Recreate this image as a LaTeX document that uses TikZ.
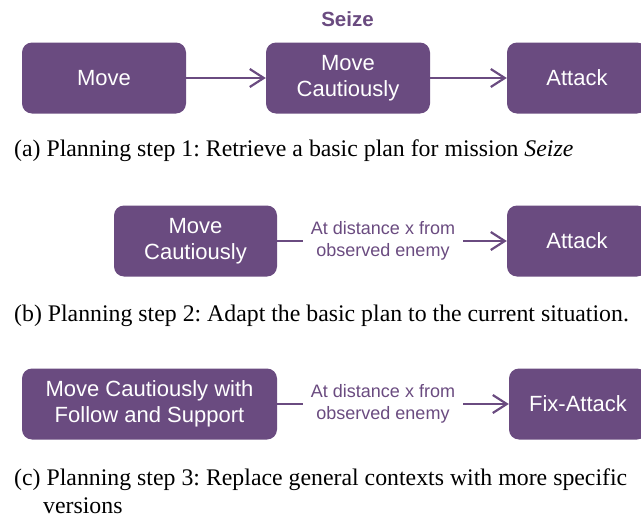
\documentclass[tikz,border=0pt]{standalone}
\usepackage{fontspec}
\setmainfont{Liberation Serif}
\newfontfamily\boxfont{Liberation Sans}
\usetikzlibrary{arrows.meta}
\definecolor{plum}{RGB}{106,75,128}
\frenchspacing
\tikzset{
  stepbox/.style={fill=plum, draw=none, rounded corners=10pt, text=white,
    minimum height=71pt, inner sep=0pt, align=center,
    font=\boxfont\fontsize{22}{26}\selectfont},
  cond/.style={text=plum, inner xsep=8pt, inner ysep=0pt, align=center,
    font=\boxfont\fontsize{18}{22}\selectfont},
  link/.style={draw=plum, line width=2.2pt},
  flow/.style={link, -{Straight Barb[length=14pt,width=18pt,line width=2.2pt]}},
  caption/.style={anchor=base west, inner sep=0pt, font=\fontsize{23.8}{28.5}\selectfont}
}
\begin{document}
\begin{tikzpicture}[x=1pt, y=-1pt]
  \useasboundingbox (0,0) rectangle (641,522);
  \clip (0,0) rectangle (641,522);

  % step 1: basic plan for Seize
  \node[text=plum, font=\boxfont\bfseries\fontsize{20.5}{24}\selectfont] (seize) at (347.5,19) {Seize};
  \node[stepbox, minimum width=164pt] (move) at (104,78) {Move};
  \node[stepbox, minimum width=164pt] (mc1) at (348,78) {Move\\Cautiously};
  \node[stepbox, minimum width=140pt] (att1) at (577,78) {Attack};
  \draw[flow] (move) -- (mc1);
  \draw[flow] (mc1) -- (att1);
  \node[caption] (capa) at (14,156) {(a) Planning step 1: Retrieve a basic plan for mission \textit{Seize}};

  % step 2: adapted to the situation
  \node[stepbox, minimum width=163pt] (mc2) at (195.5,241) {Move\\Cautiously};
  \node[cond] (cond2) at (383,241) {At distance x from\\observed enemy};
  \node[stepbox, minimum width=140pt] (att2) at (577,241) {Attack};
  \draw[link] (mc2) -- (cond2);
  \draw[flow] (cond2) -- (att2);
  \node[caption] (capb) at (14,321) {(b) Planning step 2: Adapt the basic plan to the current situation.};

  % step 3: specific contexts
  \node[stepbox, minimum width=255pt] (mc3) at (149.5,404) {Move Cautiously with\\Follow and Support};
  \node[cond] (cond3) at (383,404) {At distance x from\\observed enemy};
  \node[stepbox, minimum width=138pt] (fa3) at (578,404) {Fix-Attack};
  \draw[link] (mc3) -- (cond3);
  \draw[flow] (cond3) -- (fa3);
  \node[caption] (capc) at (14,485) {\parbox[t]{613pt}{\hangindent=29pt\hangafter=1
    (c) Planning step 3: Replace general contexts with more specific\linebreak versions}};
\end{tikzpicture}
\end{document}
